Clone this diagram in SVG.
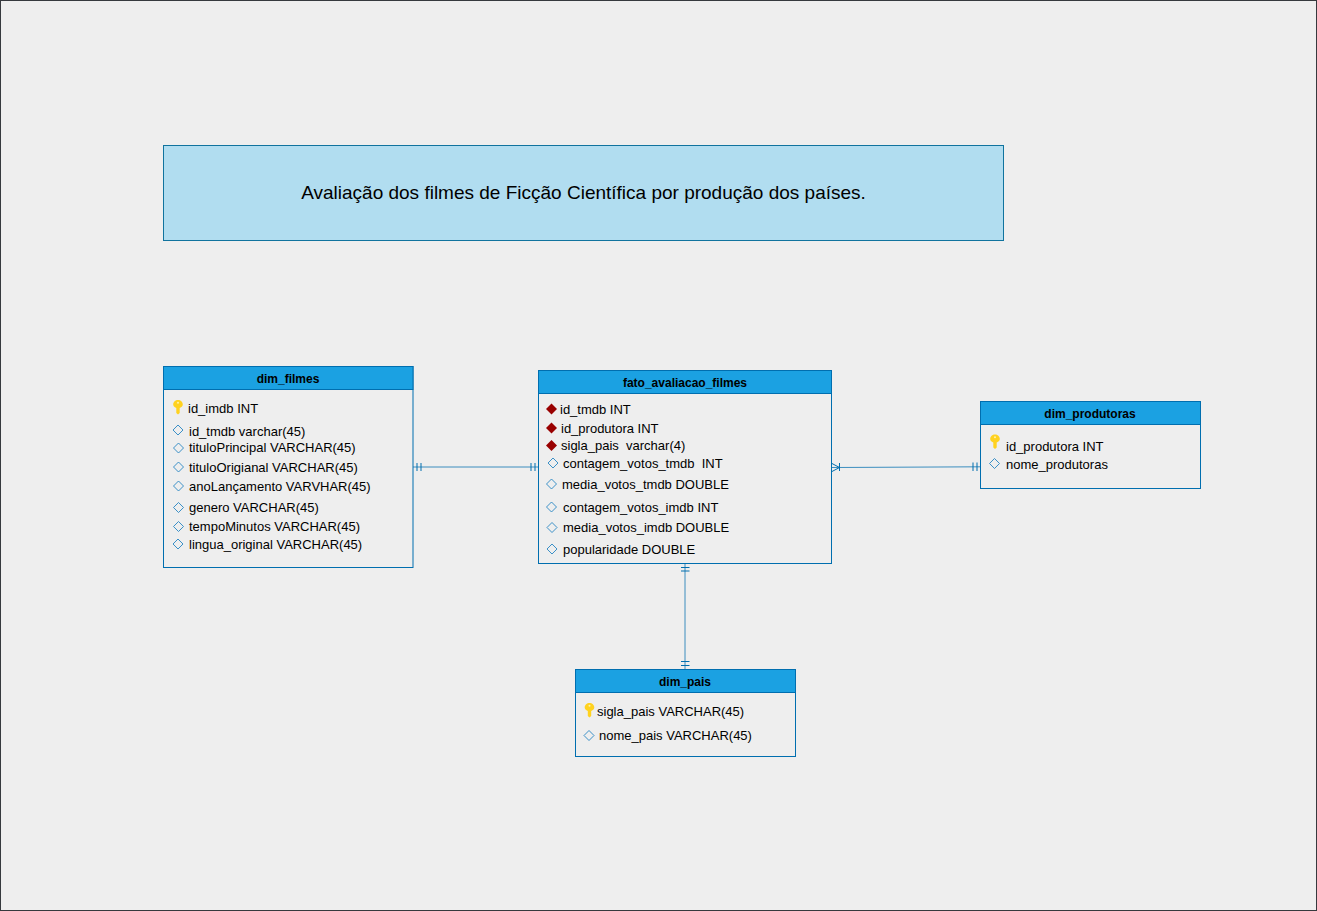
<svg xmlns="http://www.w3.org/2000/svg" width="1317" height="911" viewBox="0 0 1317 911">
<style>
text{font-family:"Liberation Sans",Arial,sans-serif;font-size:13px;fill:#000;white-space:pre}
.t{font-weight:bold;font-size:12px;text-anchor:middle}
.b{fill:#eeeeee;stroke:#006eaf;stroke-width:1}
.h{fill:#1ba1e2;stroke:#006eaf;stroke-width:1}
.c{fill:none;stroke:#006eaf;stroke-width:1;opacity:.75}
.m{fill:none;stroke:#006eaf;stroke-width:1}
.d{fill:none;stroke:#1b7fc0;stroke-width:1;opacity:.85}
</style>
<defs>
<path id="dia" class="d" d="M0-5 5 0 0 5-5 0Z"/>
<path id="fk" fill="#990000" d="M0-5.500 5.500 0 0 5.500-5.500 0Z"/>
<g id="key"><path fill="#ffd21f" d="M-1.700 3.500V8.500L0 10 1.700 8.500V3.500C3.700 2.800 4.800 1.500 4.800 0 4.800-2.600 2.600-4.500 0-4.500S-4.800-2.600-4.800 0C-4.800 1.500-3.700 2.800-1.700 3.500Z"/><circle cx="0" cy="-1.800" r="1" fill="#fff2a8"/></g>
</defs>
<rect x="0.500" y="0.500" width="1316" height="910" fill="#eeeeee" stroke="#36393d"/>
<g id="title">
<rect x="163.500" y="145.500" width="840" height="95" fill="#b1ddf0" stroke="#10739e"/>
<text x="583.500" y="199" text-anchor="middle" style="font-size:19px">Avaliação dos filmes de Ficção Científica por produção dos países.</text>
</g>
<g id="connectors">
<path class="c" d="M413 467H538.500"/>
<path class="m" d="M417 463V471M421 463V471M531 463V471M535 463V471"/>
<path class="c" d="M832 467.500 980.500 466.800"/>
<path class="m" d="M832 463.500 839.500 467.500 832 471.500M839.500 463V471M973 462.500V471M977 462.500V471"/>
<path class="c" d="M685 564V669.500"/>
<path class="m" d="M681 567.500H689.500M681 571H689.500M681 661.500H689.500M681 665.500H689.500"/>
</g>
<g id="dim_filmes">
<rect class="b" x="163.500" y="366.500" width="249.500" height="201"/>
<rect class="h" x="163.500" y="366.500" width="249.500" height="23"/>
<text class="t" x="288" y="383">dim_filmes</text>
<use href="#key" x="178" y="404.500"/>
<text x="188" y="413">id_imdb INT</text>
<use href="#dia" x="178" y="430"/><text x="189" y="436">id_tmdb varchar(45)</text>
<use href="#dia" x="178.500" y="448"/><text x="189" y="452">tituloPrincipal VARCHAR(45)</text>
<use href="#dia" x="178.500" y="467"/><text x="189" y="472">tituloOrigianal VARCHAR(45)</text>
<use href="#dia" x="178.500" y="486"/><text x="189" y="491">anoLançamento VARVHAR(45)</text>
<use href="#dia" x="178.500" y="507.500"/><text x="189" y="512">genero VARCHAR(45)</text>
<use href="#dia" x="178.500" y="526.500"/><text x="189" y="531">tempoMinutos VARCHAR(45)</text>
<use href="#dia" x="178" y="544"/><text x="189" y="549">lingua_original VARCHAR(45)</text>
</g>
<g id="fato_avaliacao_filmes">
<rect class="b" x="538.500" y="370.500" width="293" height="193"/>
<rect class="h" x="538.500" y="370.500" width="293" height="23"/>
<text class="t" x="685" y="387">fato_avaliacao_filmes</text>
<use href="#fk" x="551.500" y="409"/><text x="560" y="414">id_tmdb INT</text>
<use href="#fk" x="551.500" y="428"/><text x="561" y="433">id_produtora INT</text>
<use href="#fk" x="551.500" y="445.500"/><text x="561" y="450">sigla_pais  varchar(4)</text>
<use href="#dia" x="553" y="463"/><text x="563" y="468">contagem_votos_tmdb  INT</text>
<use href="#dia" x="551.500" y="484"/><text x="562" y="489">media_votos_tmdb DOUBLE</text>
<use href="#dia" x="551.500" y="507"/><text x="563" y="512">contagem_votos_imdb INT</text>
<use href="#dia" x="552" y="527.500"/><text x="563" y="532">media_votos_imdb DOUBLE</text>
<use href="#dia" x="552" y="549"/><text x="563" y="554">popularidade DOUBLE</text>
</g>
<g id="dim_produtoras">
<rect class="b" x="980.500" y="401.500" width="220" height="87"/>
<rect class="h" x="980.500" y="401.500" width="220" height="23"/>
<text class="t" x="1090" y="418">dim_produtoras</text>
<use href="#key" x="995" y="439"/>
<text x="1006" y="451">id_produtora INT</text>
<use href="#dia" x="994.500" y="463.500"/><text x="1006" y="469">nome_produtoras</text>
</g>
<g id="dim_pais">
<rect class="b" x="575.500" y="669.500" width="220" height="87"/>
<rect class="h" x="575.500" y="669.500" width="220" height="23"/>
<text class="t" x="685" y="686">dim_pais</text>
<use href="#key" x="589.500" y="707.500"/>
<text x="597" y="716">sigla_pais VARCHAR(45)</text>
<use href="#dia" x="589" y="735.500"/><text x="599" y="740">nome_pais VARCHAR(45)</text>
</g>
</svg>
